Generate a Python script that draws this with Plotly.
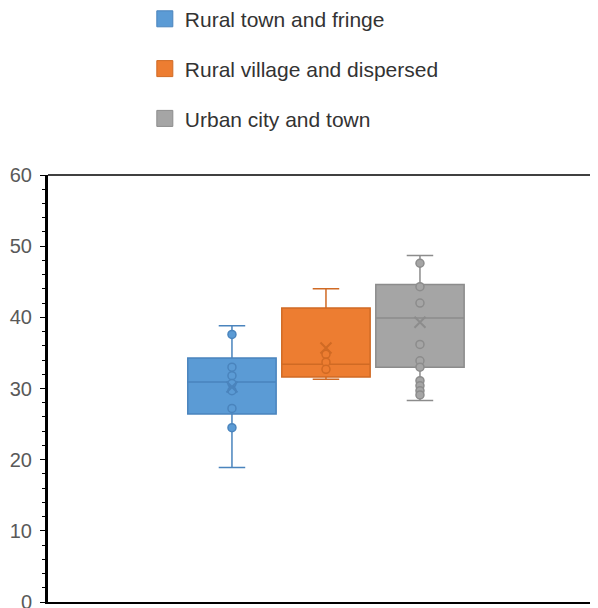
import plotly.graph_objects as go

series = ["Rural town and fringe", "Rural village and dispersed", "Urban city and town"]
colors = ["#5B9BD5", "#ED7D31", "#A5A5A5"]
line_colors = ["#4A84BD", "#D06A24", "#8C8C8C"]

q1 = [26.4, 31.6, 33.0]
median = [30.9, 33.4, 39.9]
q3 = [34.3, 41.3, 44.6]
lower = [18.9, 31.3, 28.3]
upper = [38.8, 44.0, 48.7]
means = [30.2, 35.7, 39.3]
points = [
    [37.6, 33.0, 31.8, 30.7, 29.7, 27.2, 24.5],
    [34.8, 33.7, 32.7],
    [47.6, 44.3, 42.0, 36.2, 33.9, 33.0, 31.1, 30.4, 29.7, 29.1],
]
y_ticks = [0, 10, 20, 30, 40, 50, 60]

fig = go.Figure()
for i, name in enumerate(series):
    fig.add_trace(go.Box(
        x=[i], q1=[q1[i]], median=[median[i]], q3=[q3[i]],
        lowerfence=[lower[i]], upperfence=[upper[i]],
        fillcolor=colors[i], line=dict(color=line_colors[i], width=1.5),
        width=0.94, whiskerwidth=0.3, boxpoints=False, showlegend=False,
        hoverinfo="skip",
    ))
    fig.add_trace(go.Scatter(
        x=[i] * len(points[i]), y=points[i], mode="markers",
        marker=dict(symbol="circle", size=8, color=colors[i],
                    line=dict(color=line_colors[i], width=1.5)),
        showlegend=False, hoverinfo="skip",
    ))
    fig.add_trace(go.Scatter(
        x=[i], y=[means[i]], mode="markers",
        marker=dict(symbol="x-thin-open", size=11, color=line_colors[i], line=dict(width=2)),
        showlegend=False, hoverinfo="skip",
    ))

for i, name in enumerate(series):
    fig.add_trace(go.Scatter(
        x=[None], y=[None], mode="markers", name=name, legendgroup=name,
        marker=dict(symbol="square", size=19, color=colors[i], line=dict(color=line_colors[i], width=1)),
    ))

fig.update_layout(
    width=598, height=608,
    margin=dict(l=40, r=0, t=167, b=14, autoexpand=False),
    paper_bgcolor="white", plot_bgcolor="white",
    font=dict(family="Liberation Sans, Arial, sans-serif", size=21, color="#333333"),
    showlegend=True,
    legend=dict(x=0.1735, y=1.413, xanchor="left", yanchor="top", tracegroupgap=19.5,
                font=dict(size=21, color="#333333"), bgcolor="rgba(0,0,0,0)"),
    xaxis=dict(range=[-1.957, 3.979], showticklabels=False, showgrid=False, zeroline=False,
               showline=True, linecolor="black", linewidth=1.5, ticks=""),
    yaxis=dict(range=[0, 60], tickvals=y_ticks, showgrid=False, zeroline=False,
               showline=True, linecolor="black", linewidth=3, ticks="outside",
               ticklen=5, tickcolor="black", tickwidth=1, ticklabelstandoff=4,
               tickfont=dict(size=20, color="#595959"),
               minor=dict(dtick=2, ticks="outside", ticklen=3, tickcolor="black")),
    shapes=[dict(type="line", xref="paper", yref="paper", x0=0, x1=1, y0=1, y1=1,
                 line=dict(color="black", width=1.5))],
)

fig.write_html("out.html")
